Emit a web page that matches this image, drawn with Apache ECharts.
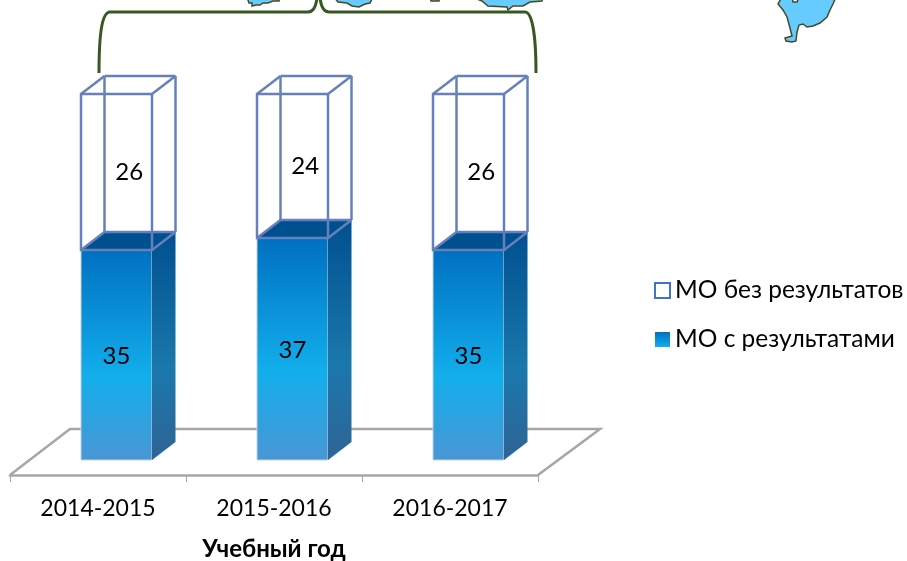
<!DOCTYPE html>
<html>
<head>
<meta charset="utf-8">
<style>
  html, body { margin: 0; padding: 0; background: #fff; }
  #chart1 { width: 907px; height: 561px; }
</style>
<script src="https://cdn.jsdelivr.net/npm/echarts@6/dist/echarts.min.js"></script>
</head>
<body>
<div id="chart1"></div>
<script>
const categories = ['2014-2015', '2015-2016', '2016-2017'];
const withResults = [35, 37, 35];
const noResults = [26, 24, 26];

const font = 'Lato, "Open Sans", sans-serif';
const depthX = 23.5, depthY = 18, barW = 71, shift = 18.5;

const frontFill = new echarts.graphic.LinearGradient(0, 0, 0, 1, [
  { offset: 0, color: '#0070c0' },
  { offset: 0.6, color: '#12aeec' },
  { offset: 1, color: '#4a96d4' }
]);
const sideFill = new echarts.graphic.LinearGradient(0, 0, 0, 1, [
  { offset: 0, color: '#00508f' },
  { offset: 0.6, color: '#1b78ac' },
  { offset: 1, color: '#2f6496' }
]);
const legendFill = new echarts.graphic.LinearGradient(0, 0, 0, 1, [
  { offset: 0, color: '#0070c0' },
  { offset: 1, color: '#12aeec' }
]);

function poly(points, style) {
  return { type: 'polygon', shape: { points: points }, style: style };
}

function filledBar(params, api) {
  const p0 = api.coord([api.value(0), api.value(1)]);
  const p1 = api.coord([api.value(0), api.value(2)]);
  const l = p0[0] + shift - barW / 2, r = l + barW, b = p0[1], t = p1[1];
  return {
    type: 'group',
    children: [
      poly([[l, b], [r, b], [r, t], [l, t]], { fill: frontFill, stroke: '#c3d1df', lineWidth: 1 }),
      poly([[r, b], [r + depthX, b - depthY], [r + depthX, t - depthY], [r, t]], { fill: sideFill }),
      poly([[l, t], [l + depthX, t - depthY], [r + depthX, t - depthY], [r, t]], { fill: '#00508f' }),
      {
        type: 'text',
        style: {
          x: (l + r) / 2, y: (t + b) / 2 + 1, text: String(api.value(2) - api.value(1)),
          fill: '#000', font: '24px ' + font, align: 'center', verticalAlign: 'middle'
        }
      }
    ]
  };
}

function wireBar(params, api) {
  const p0 = api.coord([api.value(0), api.value(1)]);
  const p1 = api.coord([api.value(0), api.value(2)]);
  const l = p0[0] + shift - barW / 2, r = l + barW, b = p0[1], t = p1[1];
  const line = { stroke: '#6580bc', lineWidth: 2.5, fill: 'none' };
  const edge = (x1, y1, x2, y2) => ({ type: 'line', shape: { x1: x1, y1: y1, x2: x2, y2: y2 }, style: line });
  return {
    type: 'group',
    children: [
      edge(l + depthX, t - depthY, l + depthX, b - depthY),
      edge(l + depthX, b - depthY, r + depthX, b - depthY),
      edge(r, b, r + depthX, b - depthY),
      edge(l, b, l + depthX, b - depthY),
      edge(r + depthX, t - depthY, r + depthX, b - depthY),
      edge(l + depthX, t - depthY, r + depthX, t - depthY),
      edge(l, t, l + depthX, t - depthY),
      edge(r, t, r + depthX, t - depthY),
      poly([[l, b], [r, b], [r, t], [l, t]], line),
      {
        type: 'text',
        style: {
          x: (l + r + depthX) / 2 + 1, y: (t + b) / 2, text: String(api.value(2) - api.value(1)),
          fill: '#000', font: '24px ' + font, align: 'center', verticalAlign: 'middle'
        }
      }
    ]
  };
}

// map pieces cut by the top edge of the slide
const mapStyle = { fill: '#66ccff', stroke: '#454a24', lineWidth: 1.5 };
const mapPieces = [
  [[247, -3], [249, 3], [252, 3], [252, 6], [256, 5], [260, 5], [263, 3], [268, 3], [273, 1], [279, 1], [280, -3]],
  [[334, -3], [338, 2], [347, 3], [352, 6], [359, 7], [365, 4], [370, 3], [373, -3]],
  [[430, -3], [431, 1], [439, 1], [440, -3]],
  [[472, -3], [482, 1], [488, 6], [507, 7], [508, 10], [513, 6], [523, 6], [530, 2], [542, 1], [543, -3]],
  [[782, -3], [778, 4], [783, 10], [787, 17], [790, 28], [792, 36], [785, 38], [786, 41], [792, 42], [796, 41], [797, 32], [799, 25], [803, 24], [807, 27], [813, 26], [820, 23], [827, 17], [830, 10], [833, 4], [836, -3]]
];
const mapHole = [[792, -3], [793, 2], [797, 2], [799, -3]];

// curly bracket over the three bars
const braceStyle = { stroke: '#385723', lineWidth: 3, fill: 'none' };
const braceCurves = [
  { x1: 99, y1: 73, cpx1: 99, cpy1: 40, cpx2: 101, cpy2: 12, x2: 110, y2: 12 },
  { x1: 308, y1: 12, cpx1: 313, cpy1: 12, cpx2: 316, cpy2: 6, x2: 317, y2: -2 },
  { x1: 320, y1: -2, cpx1: 321, cpy1: 6, cpx2: 324, cpy2: 12, x2: 329, y2: 12 },
  { x1: 525, y1: 12, cpx1: 533, cpy1: 12, cpx2: 536, cpy2: 40, x2: 536, y2: 73 }
];
const braceLines = [
  { x1: 110, y1: 12, x2: 308, y2: 12 },
  { x1: 329, y1: 12, x2: 525, y2: 12 }
];

const decor = [
  {
    type: 'polyline', z: 0,
    shape: { points: [[10, 475], [70, 429], [600, 429], [538, 475]] },
    style: { stroke: '#a6a6a6', lineWidth: 2.5, fill: 'none' }
  }
]
  .concat(mapPieces.map(points => ({ type: 'polygon', z: 0, shape: { points: points }, style: mapStyle })))
  .concat([{ type: 'polygon', z: 1, shape: { points: mapHole }, style: { fill: '#fff', stroke: '#454a24', lineWidth: 1.5 } }])
  .concat(braceCurves.map(s => ({ type: 'bezierCurve', z: 1, shape: s, style: braceStyle })))
  .concat(braceLines.map(s => ({ type: 'line', z: 1, shape: s, style: braceStyle })));

const myEchart = echarts.init(document.getElementById('chart1'));
myEchart.setOption({
  animation: false,
  backgroundColor: '#fff',
  textStyle: { fontFamily: font },
  grid: { left: 10, right: 369, top: 40, bottom: 101, outerBoundsMode: 'none' },
  legend: {
    orient: 'vertical',
    left: 649,
    top: 273,
    itemWidth: 15,
    itemHeight: 15,
    itemGap: 24,
    icon: 'rect',
    data: ['МО без результатов', 'МО с результатами'],
    textStyle: { color: '#000', fontSize: 24.5, fontFamily: font }
  },
  xAxis: {
    type: 'category',
    data: categories,
    offset: 15,
    axisLine: { show: true, onZero: false, lineStyle: { color: '#a6a6a6', width: 2.5 } },
    axisTick: { show: true, length: 7, lineStyle: { color: '#a6a6a6', width: 1 } },
    axisLabel: { color: '#000', fontSize: 23, margin: 22 },
    name: 'Учебный год',
    nameLocation: 'middle',
    nameGap: 62,
    nameTextStyle: { color: '#000', fontSize: 24, fontWeight: 'bold' }
  },
  yAxis: { type: 'value', min: 0, max: 70, show: false },
  graphic: decor,
  series: [
    {
      name: 'МО с результатами',
      type: 'custom',
      renderItem: filledBar,
      itemStyle: { color: legendFill },
      encode: { x: 0, y: [1, 2] },
      data: withResults.map((v, i) => [i, 0, v])
    },
    {
      name: 'МО без результатов',
      type: 'custom',
      renderItem: wireBar,
      itemStyle: { color: '#fff', borderColor: '#4472c4', borderWidth: 2 },
      encode: { x: 0, y: [1, 2] },
      data: noResults.map((v, i) => [i, withResults[i], withResults[i] + v])
    }
  ]
});
</script>
</body>
</html>
